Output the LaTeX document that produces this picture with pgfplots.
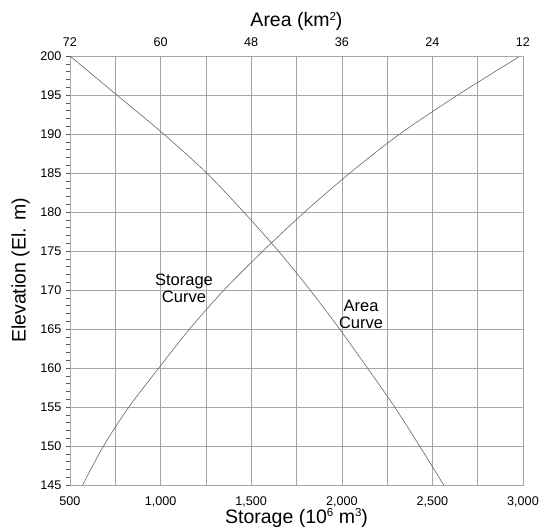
\documentclass[border=0pt]{standalone}
\usepackage{pgfplots}
\pgfplotsset{compat=1.18}
\usepackage{fontspec}
\setmainfont{Liberation Sans}

\newcommand{\tickfont}{\fontsize{12.6}{14}\selectfont}
\newcommand{\titlefont}{\fontsize{19.5}{23}\selectfont}
\newcommand{\notefont}{\fontsize{16.5}{17}\selectfont}
\newcommand{\supr}[1]{\raisebox{0.33em}{\fontsize{11.5}{12}\selectfont #1}}

\pgfplotstableread{
elev storage area
145  570   22.5
150  685   25.7
155  825   29.0
160  990   32.6
165  1160  36.3
170  1350  40.2
175  1565  44.4
180  1795  49.0
185  2045  53.9
190  2320  59.6
195  2640  65.8
200  2985  72.0
}\curves

\begin{document}
\begin{tikzpicture}
\begin{axis}[
    name=main,
    scale only axis,
    width=453pt, height=429pt,
    xmin=500, xmax=3000,
    ymin=145, ymax=200,
    xtick={500,1000,...,3000},
    minor xtick={750,1250,...,2750},
    ytick={145,150,...,200},
    minor ytick={146,147,148,149,151,152,153,154,156,157,158,159,161,162,163,164,166,167,168,169,171,172,173,174,176,177,178,179,181,182,183,184,186,187,188,189,191,192,193,194,196,197,198,199},
    xtick pos=bottom,
    ytick pos=left,
    xtick style={draw=none},
    ytick style={gray!70!black, line width=0.5pt},
    tick align=outside,
    major tick length=4pt,
    minor tick length=4pt,
    xmajorgrids, xminorgrids, ymajorgrids,
    major grid style={gray!70, line width=0.6pt},
    minor grid style={gray!70, line width=0.6pt},
    axis line style={gray!70, line width=0.6pt},
    /pgf/number format/assume math mode=true,
    /pgf/number format/1000 sep={,},
    tick label style={font=\tickfont},
    xticklabel style={inner sep=0pt, yshift=-8pt},
    yticklabel style={xshift=-1pt},
    xlabel={Storage (10\supr{6} m\supr{3})},
    ylabel={Elevation (El. m)},
    label style={font=\titlefont},
    xlabel style={inner sep=0pt, yshift=-1pt},
    ylabel style={yshift=4pt},
]
\addplot[gray!80!black, line width=0.6pt, smooth] table[x=storage, y=elev] {\curves};
\node[font=\notefont, align=center, inner sep=0pt] at (axis cs:1129,170.2) {Storage\\Curve};
\node[font=\notefont, align=center, inner sep=0pt] at (axis cs:2106,166.9) {Area\\Curve};
\end{axis}
\begin{axis}[
    scale only axis,
    width=453pt, height=429pt,
    x dir=reverse,
    xmin=12, xmax=72,
    ymin=145, ymax=200,
    axis x line*=top,
    axis y line=none,
    xtick={12,24,...,72},
    xtick style={draw=none},
    axis line style={gray!70, line width=0.6pt},
    /pgf/number format/assume math mode=true,
    tick label style={font=\tickfont},
    xticklabel style={yshift=6pt},
    xlabel={Area (km\supr{2})},
    xlabel style={font=\titlefont, yshift=0pt},
]
\addplot[gray!80!black, line width=0.6pt, smooth] table[x=area, y=elev] {\curves};
\end{axis}
\pgfresetboundingbox
\path ([shift={(-70pt,-44pt)}]main.south west) rectangle ([shift={(24pt,56pt)}]main.north east);
\end{tikzpicture}
\end{document}
